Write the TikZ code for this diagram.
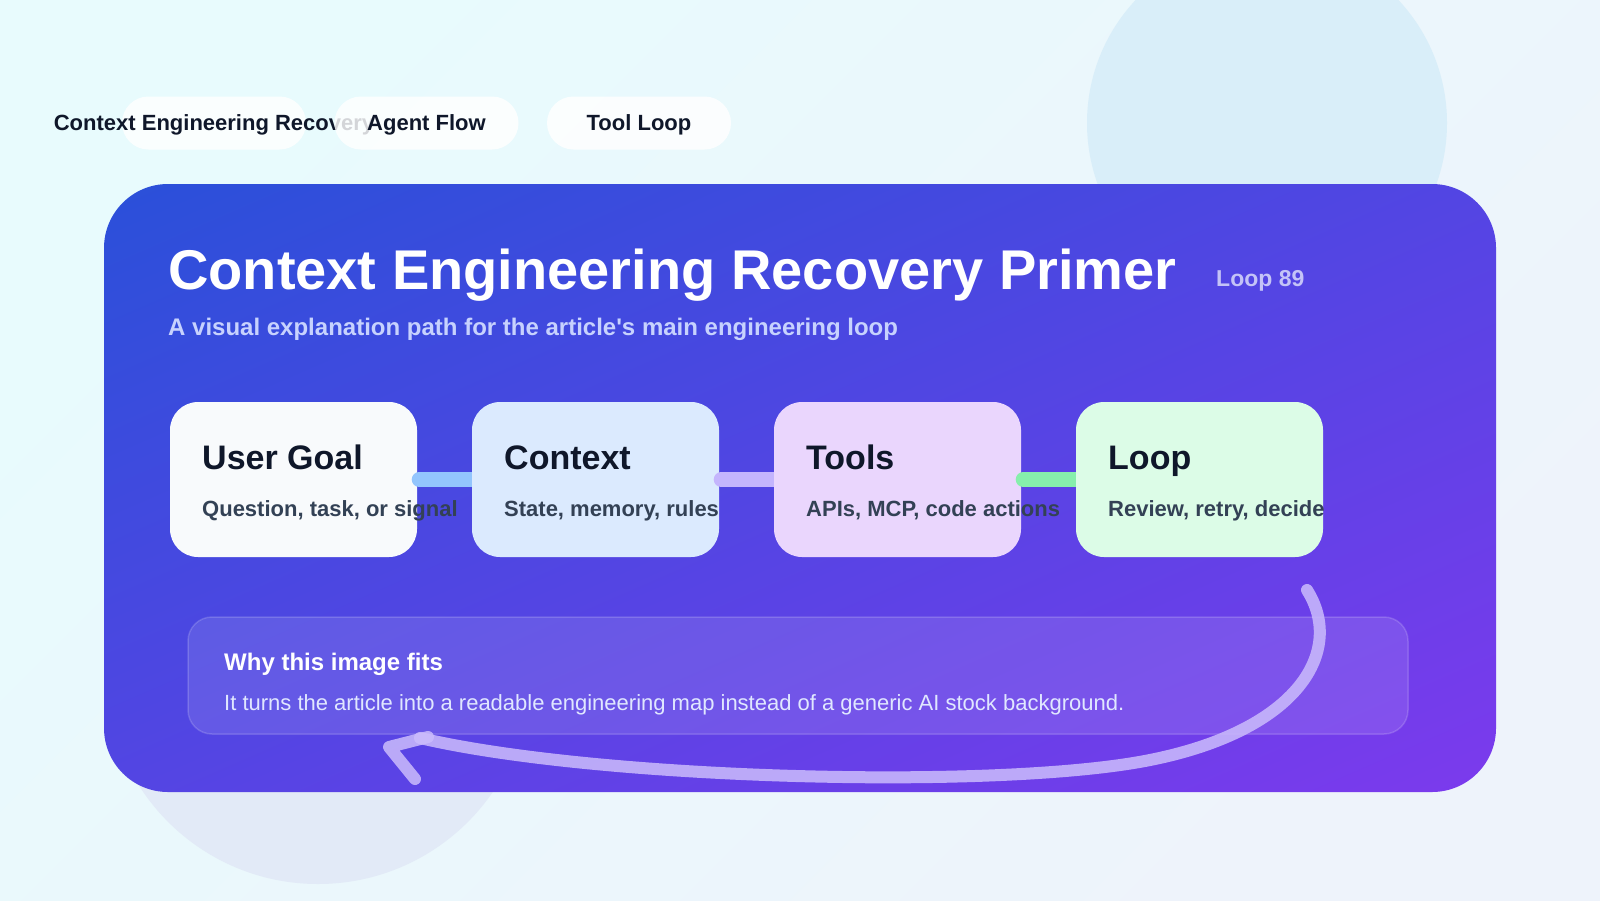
\documentclass[tikz,border=0pt]{standalone}
\usepackage{fontspec}
\setmainfont{Liberation Sans}
\usetikzlibrary{calc}
\definecolor{bgA}{HTML}{E8FBFD}
\definecolor{bgB}{HTML}{EEF3FB}
\definecolor{circA}{HTML}{D9EEF9}
\definecolor{circB}{HTML}{E2EAF7}
\definecolor{panA}{HTML}{2A50D9}
\definecolor{panM}{HTML}{4B46E3}
\definecolor{panB}{HTML}{7C3AED}
\definecolor{ink}{HTML}{0F172A}
\definecolor{subink}{HTML}{334155}
\definecolor{subtl}{HTML}{C7D2FE}
\definecolor{loopc}{HTML}{C4C3F7}
\definecolor{bodyc}{HTML}{E0E7FF}
\definecolor{cardA}{HTML}{F8FAFC}
\definecolor{cardB}{HTML}{DBEAFE}
\definecolor{cardC}{HTML}{EAD6FD}
\definecolor{cardD}{HTML}{DCFCE7}
\definecolor{barA}{HTML}{93C5FD}
\definecolor{barB}{HTML}{C4B5FD}
\definecolor{barC}{HTML}{86EFAC}
\definecolor{arrowc}{HTML}{CBBCFC}
\tikzset{
  txt/.style={inner sep=0pt, anchor=base west},
  pill/.style={fill=white, fill opacity=0.82, draw=none, rounded corners=26.5pt,
    minimum width=184pt, minimum height=53pt, inner sep=0pt},
  tabtext/.style={inner sep=0pt, anchor=base, text=ink, font=\fontsize{22}{26}\selectfont\bfseries},
  card/.style={draw=none, rounded corners=28pt, minimum width=247pt, minimum height=155pt, inner sep=0pt},
  cardtitle/.style={txt, text=ink, font=\fontsize{34}{40}\selectfont\bfseries},
  cardsub/.style={txt, text=subink, font=\fontsize{22}{26}\selectfont\bfseries},
  bar/.style={line width=15pt, line cap=round},
  loopline/.style={draw=arrowc, draw opacity=0.85, line width=12pt, line cap=round, line join=round},
}
\begin{document}
\begin{tikzpicture}[x=1pt, y=-1pt]
\useasboundingbox (0,0) rectangle (1600,900);
% background
\fill[top color=bgA, bottom color=bgB, shading angle=45] (0,0) rectangle (1600,900);
\fill[circA] (1267,123) circle[radius=180];
\fill[circB] (318,672) circle[radius=212];
% tabs
\node[pill] (p1) at (214,123) {};
\node[tabtext] (t1) at (214,130) {Context Engineering Recovery};
\node[pill] (p2) at (426.5,123) {};
\node[tabtext] (t2) at (426.5,130) {Agent Flow};
\node[pill] (p3) at (639,123) {};
\node[tabtext] (t3) at (639,130) {Tool Loop};
% panel
\begin{scope}
  \clip[rounded corners=64pt] (104,184) rectangle (1496,792);
  \begin{scope}[transform canvas={rotate around={23.6:(800,488)}}]
    \shade[top color=panA, middle color=panM, bottom color=panB]
      (-200,-69) rectangle (1800,1045);
  \end{scope}
\end{scope}
\node[txt, text=white, font=\fontsize{56}{60}\selectfont\bfseries] (title) at (168,289) {Context Engineering Recovery Primer};
\node[txt, text=loopc, font=\fontsize{23}{28}\selectfont\bfseries] (badge) at (1216,286) {Loop 89};
\node[txt, text=subtl, font=\fontsize{24}{28}\selectfont\bfseries] (subtitle) at (168,335) {A visual explanation path for the article\textquotesingle s main engineering loop};
% cards and bars
\node[card, fill=cardA] (c1) at (293.5,479.5) {};
\draw[bar, barA] ([xshift=2pt]c1.east) -- ([xshift=63pt]c1.east);
\node[card, fill=cardB] (c2) at (595.5,479.5) {};
\draw[bar, barB] ([xshift=2pt]c2.east) -- ([xshift=63pt]c2.east);
\node[card, fill=cardC] (c3) at (897.5,479.5) {};
\draw[bar, barC] ([xshift=2pt]c3.east) -- ([xshift=63pt]c3.east);
\node[card, fill=cardD] (c4) at (1199.5,479.5) {};
\node[cardtitle] (c1t) at (202,469) {User Goal};
\node[cardsub] (c1s) at (202,516) {Question, task, or signal};
\node[cardtitle] (c2t) at (504,469) {Context};
\node[cardsub] (c2s) at (504,516) {State, memory, rules};
\node[cardtitle] (c3t) at (806,469) {Tools};
\node[cardsub] (c3s) at (806,516) {APIs, MCP, code actions};
\node[cardtitle] (c4t) at (1108,469) {Loop};
\node[cardsub] (c4s) at (1108,516) {Review, retry, decide};
% note box
\node[draw=white, draw opacity=0.16, line width=1.5pt, fill=white, fill opacity=0.11,
  rounded corners=24pt, minimum width=1220pt, minimum height=117pt, inner sep=0pt] (note) at (798,675.5) {};
\node[txt, text=white, font=\fontsize{24}{28}\selectfont\bfseries] (nt) at (224,670) {Why this image fits};
\node[txt, text=bodyc, font=\fontsize{22}{26}\selectfont] (nb) at (224,710) {It turns the article into a readable engineering map instead of a generic AI stock background.};
% loop arrow
\coordinate (ls) at (1307,590);
\coordinate (lm) at (1150,760);
\coordinate (le) at (420,738);
\coordinate (ha) at (428,737);
\coordinate (tip) at (389,747);
\coordinate (hb) at (415,779);
\draw[loopline] (ls) .. controls (1345,650) and (1300,730) .. (lm)
  .. controls (1000,790) and (600,780) .. (le);
\draw[loopline] (ha) -- (tip) -- (hb);
\end{tikzpicture}
\end{document}
